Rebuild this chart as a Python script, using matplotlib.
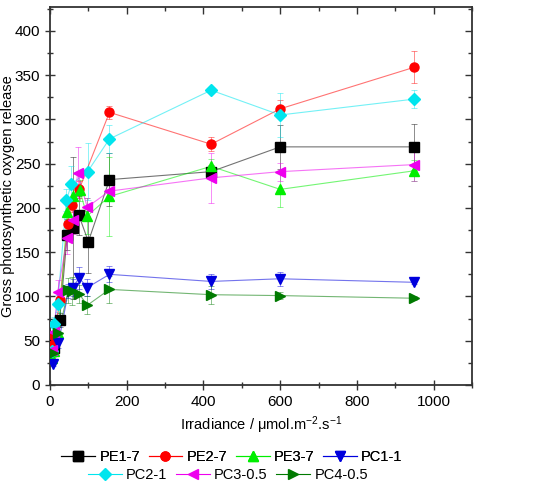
import numpy as np
import matplotlib.pyplot as plt
from matplotlib.ticker import MultipleLocator

plt.rcParams["font.family"] = ["Liberation Sans", "DejaVu Sans"]
plt.rcParams["mathtext.default"] = "regular"

# PE1-7
x_pe1 = [5, 10, 25, 45, 60, 75, 100, 155, 420, 600, 950]
y_pe1 = [45, 42, 73, 170, 177, 192, 162, 232, 241, 269, 269]
e_pe1 = [5, 5, 8, 18, 80, 22, 35, 30, 8, 25, 26]
# PE2-7
x_pe2 = [5, 10, 26, 46, 58, 76, 155, 420, 600, 950]
y_pe2 = [45, 55, 96, 182, 203, 221, 308, 272, 312, 359]
e_pe2 = [4, 5, 6, 12, 8, 10, 7, 8, 10, 18]
# PE3-7
x_pe3 = [5, 10, 22, 45, 60, 77, 97, 155, 420, 600, 950]
y_pe3 = [30, 38, 59, 195, 213, 220, 191, 213, 247, 221, 242]
e_pe3 = [4, 5, 6, 15, 10, 12, 20, 45, 8, 20, 12]
# PC1-1
x_pc1 = [7, 22, 48, 59, 76, 97, 155, 420, 600, 950]
y_pc1 = [24, 47, 106, 110, 121, 110, 125, 117, 120, 116]
e_pc1 = [3, 5, 8, 10, 12, 10, 9, 8, 8, 2]
# PC2-1
x_pc2 = [5, 10, 20, 43, 56, 98, 155, 420, 600, 950]
y_pc2 = [38, 69, 92, 209, 227, 241, 278, 333, 305, 323]
e_pc2 = [4, 8, 10, 12, 20, 32, 16, 2, 25, 10]
# PC3-0.5
x_pc3 = [5, 10, 20, 45, 60, 72, 97, 155, 420, 600, 950]
y_pc3 = [40, 60, 105, 166, 186, 240, 201, 219, 234, 241, 249]
e_pc3 = [4, 6, 14, 18, 15, 29, 10, 8, 28, 10, 18]
# PC4-0.5
x_pc4 = [9, 22, 48, 57, 76, 97, 155, 420, 600, 950]
y_pc4 = [36, 59, 107, 106, 103, 90, 108, 102, 101, 98]
e_pc4 = [4, 6, 14, 16, 10, 10, 15, 10, 4, 2]

series = [
    ("PE1-7", x_pe1, y_pe1, e_pe1, "#000000", "s"),
    ("PE2-7", x_pe2, y_pe2, e_pe2, "#ff0000", "o"),
    ("PE3-7", x_pe3, y_pe3, e_pe3, "#00ee00", "^"),
    ("PC1-1", x_pc1, y_pc1, e_pc1, "#0000dd", "v"),
    ("PC2-1", x_pc2, y_pc2, e_pc2, "#00e5ee", "D"),
    ("PC3-0.5", x_pc3, y_pc3, e_pc3, "#ee00ee", "<"),
    ("PC4-0.5", x_pc4, y_pc4, e_pc4, "#007a00", ">"),
]

fig = plt.figure(figsize=(5.37, 4.93), dpi=100)
ax = fig.add_axes([50 / 537, 1 - 385 / 493, 422 / 537, 378 / 493])

handles = []
for name, x, y, e, c, m in series:
    ax.errorbar(x, y, yerr=e, fmt="none", ecolor=c, elinewidth=0.7,
                capsize=2.5, capthick=0.7, alpha=0.45, zorder=2)
    ax.plot(x, y, "-", color=c, lw=0.8, alpha=0.55, zorder=3)
    ms = 6 if m == "D" else 6.5
    ax.plot(x, y, ls="none", marker=m, color=c, ms=ms, mec=c, zorder=4)
    h, = ax.plot([], [], "-", color=c, lw=0.8, marker=m, ms=ms, label=name)
    handles.append(h)

ax.set_xlim(0, 1100)
ax.set_ylim(0, 427)
ax.xaxis.set_major_locator(MultipleLocator(200))
ax.xaxis.set_minor_locator(MultipleLocator(100))
ax.yaxis.set_major_locator(MultipleLocator(50))
ax.yaxis.set_minor_locator(MultipleLocator(25))
ax.set_xticks([0, 200, 400, 600, 800, 1000])
ax.tick_params(which="major", direction="inout", length=7, width=1, labelsize=11, color="#333333")
ax.tick_params(which="minor", direction="inout", length=4, width=1, color="#333333")
for s in ax.spines.values():
    s.set_linewidth(1.3)
    s.set_color("#333333")

for side in ("top", "right"):
    sec = ax.secondary_xaxis(side) if side == "top" else ax.secondary_yaxis(side)
    axis = sec.xaxis if side == "top" else sec.yaxis
    if side == "top":
        axis.set_major_locator(MultipleLocator(200))
        axis.set_minor_locator(MultipleLocator(100))
    else:
        axis.set_major_locator(MultipleLocator(50))
        axis.set_minor_locator(MultipleLocator(25))
    sec.tick_params(which="major", direction="in", length=5, width=1, color="#333333")
    sec.tick_params(which="minor", direction="in", length=3, width=1, color="#333333")
    axis.set_ticklabels([])
    sec.spines[side].set_visible(False)

ax.set_xlabel("Irradiance / μmol.m$^{-2}$.s$^{-1}$", fontsize=10.5, labelpad=4)
ax.set_ylabel("Gross photosynthetic oxygen release", fontsize=10.5)
ax.yaxis.set_label_coords(-0.083, 0.5)

leg1 = fig.legend(handles=handles[:4], loc="center", bbox_to_anchor=(232 / 537, 1 - 457 / 493),
                  ncol=4, frameon=False, fontsize=10.5, handlelength=2.3,
                  columnspacing=0.6, handletextpad=0.3, borderpad=0)
fig.add_artist(leg1)
fig.legend(handles=handles[4:], loc="center", bbox_to_anchor=(228 / 537, 1 - 475 / 493),
           ncol=3, frameon=False, fontsize=10.5, handlelength=2.3,
           columnspacing=0.6, handletextpad=0.3, borderpad=0)

fig.savefig("out.png", dpi=100)
